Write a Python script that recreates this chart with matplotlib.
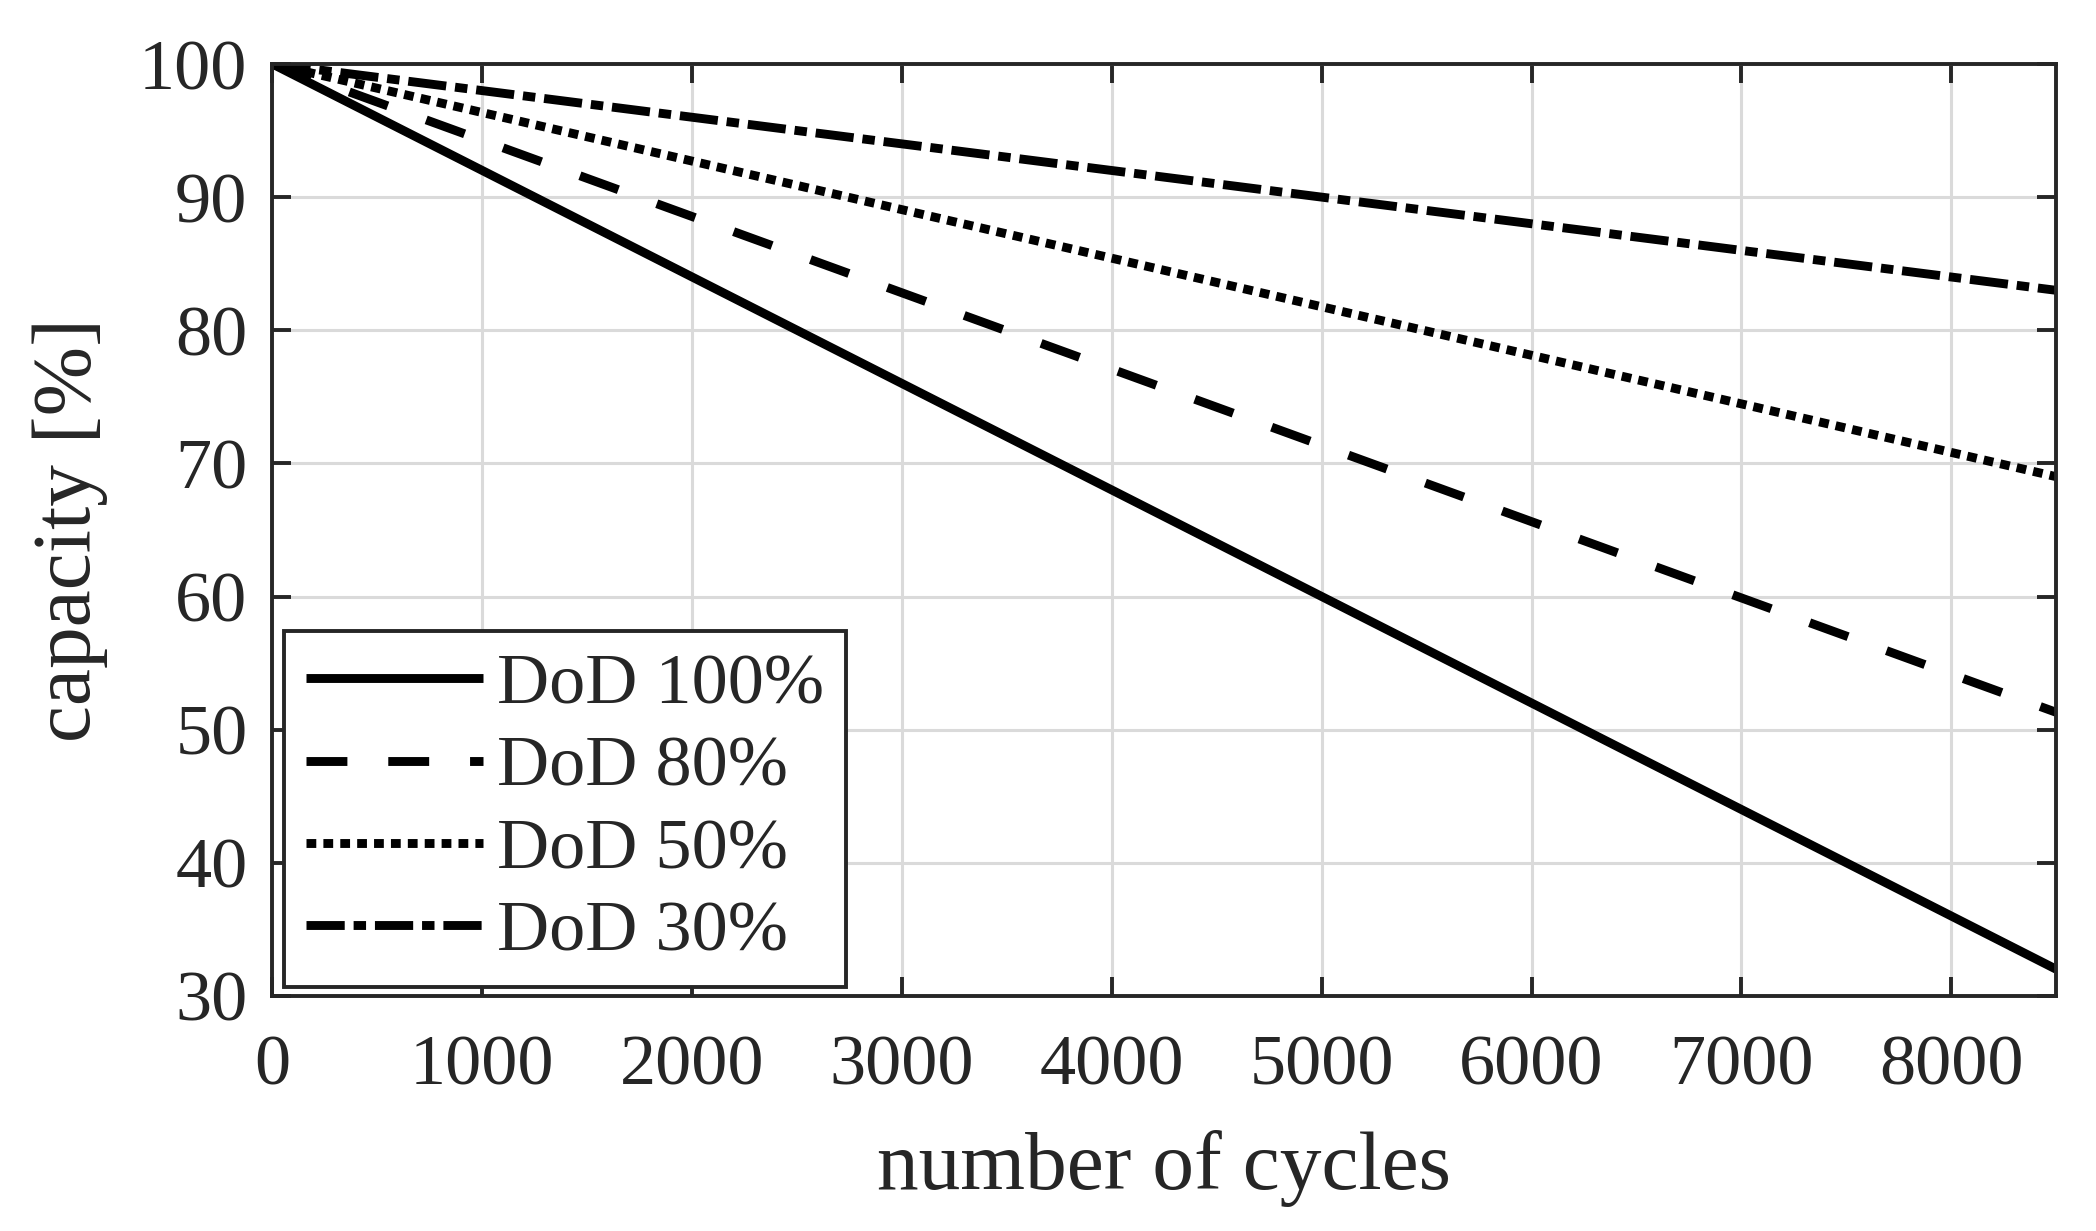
import matplotlib
matplotlib.use("Agg")
import matplotlib.pyplot as plt

# ---- data ----
cycles = [0, 8500]
dod_labels = ["DoD 100%", "DoD 80%", "DoD 50%", "DoD 30%"]
cap_dod100 = [100, 32.0]
cap_dod80 = [100, 51.3]
cap_dod50 = [100, 69.0]
cap_dod30 = [100, 83.0]
xticks = [0, 1000, 2000, 3000, 4000, 5000, 6000, 7000, 8000]
yticks = [30, 40, 50, 60, 70, 80, 90, 100]

TXT = "#262626"
plt.rcParams["font.family"] = ["Liberation Serif", "DejaVu Serif"]
plt.rcParams["text.color"] = TXT
plt.rcParams["axes.labelcolor"] = TXT
plt.rcParams["xtick.color"] = TXT
plt.rcParams["ytick.color"] = TXT

fig = plt.figure(figsize=(10.48, 6.155), dpi=200)
ax = fig.add_axes([0.130, 0.191, 0.851, 0.757])

lw = 3.2
ax.plot(cycles, cap_dod100, color="black", lw=lw, linestyle="-", label=dod_labels[0], solid_capstyle="butt")
ax.plot(cycles, cap_dod80, color="black", lw=lw, linestyle=(0, (4.6, 4.6)), label=dod_labels[1], dash_capstyle="butt")
ax.plot(cycles, cap_dod50, color="black", lw=lw, linestyle=(0, (1.1, 0.8)), label=dod_labels[2], dash_capstyle="butt")
ax.plot(cycles, cap_dod30, color="black", lw=lw, linestyle=(0, (4.3, 1.0, 1.4, 1.0)), label=dod_labels[3], dash_capstyle="butt")

ax.set_xlim(0, 8500)
ax.set_ylim(30, 100)
ax.set_xticks(xticks)
ax.set_yticks(yticks)
ax.grid(True, color="#dadada", lw=1.1)
ax.set_axisbelow(True)

for s in ax.spines.values():
    s.set_color(TXT)
    s.set_linewidth(1.4)
ax.tick_params(direction="in", top=True, right=True, length=7, width=1.4, labelsize=26)
ax.tick_params(axis="x", pad=14)
ax.tick_params(axis="y", pad=9)

ax.set_xlabel("number of cycles", fontsize=30, labelpad=11)
ax.set_ylabel("capacity [%]", fontsize=30)
ax.yaxis.set_label_coords(-0.092, 0.5)

leg = ax.legend(loc="lower left", bbox_to_anchor=(0.0067, 0.0097), borderaxespad=0,
                fontsize=26, handlelength=2.45, handletextpad=0.2, labelspacing=0.23,
                borderpad=0.3, fancybox=False, framealpha=1, edgecolor=TXT)
leg.get_frame().set_linewidth(1.4)

fig.savefig("out.png", dpi=200)
